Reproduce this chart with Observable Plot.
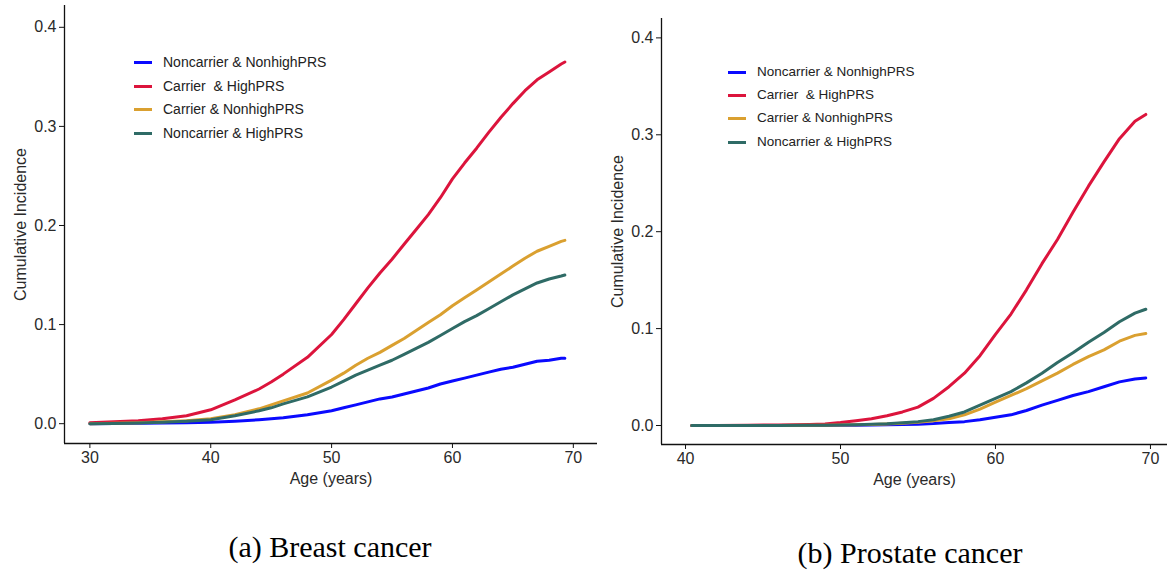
<!DOCTYPE html>
<html><head><meta charset="utf-8">
<script src="https://cdn.jsdelivr.net/npm/d3@7"></script>
<script src="https://cdn.jsdelivr.net/npm/@observablehq/plot@0.6"></script>
<style>
body{margin:0;background:#fff;}
#wrap{position:relative;width:1167px;height:571px;overflow:hidden;background:#fff;font-family:"Liberation Sans",Arial,sans-serif;}
.panel{position:absolute;top:0;}
.legend{position:absolute;top:0;color:#222;}
.legend .row{position:absolute;left:0;white-space:pre;height:16px;line-height:16px;}
.legend .sw{position:absolute;left:0;top:6.5px;width:18px;height:3px;}
.legend .lab{position:absolute;left:29px;top:0;white-space:pre;}
.caption{position:absolute;font-family:"Liberation Serif","Times New Roman",serif;font-size:30px;color:#000;transform:translateX(-50%);white-space:nowrap;line-height:1;}
</style></head><body>
<div id="wrap"></div>
<script>
// ---------- data ----------
const groups = ["Noncarrier & NonhighPRS", "Carrier  & HighPRS", "Carrier & NonhighPRS", "Noncarrier & HighPRS"];
const yTicks = [0, 0.1, 0.2, 0.3, 0.4];

const breastXTicks = [30, 40, 50, 60, 70];
const breastAge = [30, 32, 34, 36, 38, 40, 42, 44, 45, 46, 48, 50, 51, 52, 53, 54, 55, 56, 57, 58, 59, 60, 61, 62, 63, 64, 65, 66, 67, 68, 69, 69.3];
const breastNoncarrierNonhigh = [0, 0.0002, 0.0004, 0.0007, 0.001, 0.0015, 0.0025, 0.004, 0.005, 0.006, 0.009, 0.013, 0.016, 0.019, 0.022, 0.025, 0.027, 0.030, 0.033, 0.036, 0.040, 0.043, 0.046, 0.049, 0.052, 0.055, 0.057, 0.060, 0.063, 0.064, 0.066, 0.066];
const breastCarrierHigh = [0.001, 0.002, 0.003, 0.005, 0.008, 0.014, 0.024, 0.035, 0.042, 0.050, 0.067, 0.090, 0.105, 0.121, 0.137, 0.152, 0.166, 0.181, 0.196, 0.211, 0.228, 0.247, 0.263, 0.278, 0.294, 0.309, 0.323, 0.336, 0.347, 0.355, 0.363, 0.365];
const breastCarrierNonhigh = [0, 0.0005, 0.001, 0.002, 0.003, 0.005, 0.009, 0.015, 0.019, 0.023, 0.031, 0.044, 0.051, 0.059, 0.066, 0.072, 0.079, 0.086, 0.094, 0.102, 0.110, 0.119, 0.127, 0.135, 0.143, 0.151, 0.159, 0.167, 0.174, 0.179, 0.184, 0.185];
const breastNoncarrierHigh = [0, 0.0003, 0.0008, 0.0015, 0.0025, 0.004, 0.008, 0.013, 0.016, 0.020, 0.027, 0.037, 0.043, 0.049, 0.054, 0.059, 0.064, 0.070, 0.076, 0.082, 0.089, 0.096, 0.103, 0.109, 0.116, 0.123, 0.130, 0.136, 0.142, 0.146, 0.149, 0.150];

const prostateXTicks = [40, 50, 60, 70];
const prostateAge = [40.4, 42, 44, 46, 48, 49, 50, 51, 52, 53, 54, 55, 56, 57, 58, 59, 60, 61, 62, 63, 64, 65, 66, 67, 68, 69, 69.7];
const prostateNoncarrierNonhigh = [0, 0, 0, 0, 0.0001, 0.0001, 0.0002, 0.0003, 0.0005, 0.0007, 0.001, 0.0014, 0.002, 0.003, 0.004, 0.006, 0.0085, 0.011, 0.0155, 0.021, 0.026, 0.031, 0.035, 0.040, 0.045, 0.048, 0.049];
const prostateCarrierHigh = [0, 0, 0.0003, 0.0006, 0.001, 0.0015, 0.003, 0.005, 0.007, 0.010, 0.014, 0.019, 0.028, 0.040, 0.054, 0.072, 0.094, 0.115, 0.140, 0.167, 0.192, 0.220, 0.247, 0.272, 0.296, 0.314, 0.321];
const prostateCarrierNonhigh = [0, 0, 0, 0.0001, 0.0002, 0.0003, 0.0004, 0.0007, 0.001, 0.0015, 0.0023, 0.0033, 0.005, 0.007, 0.011, 0.017, 0.024, 0.031, 0.038, 0.046, 0.054, 0.063, 0.071, 0.078, 0.087, 0.093, 0.095];
const prostateNoncarrierHigh = [0, 0, 0, 0.0001, 0.0002, 0.0003, 0.0005, 0.0008, 0.0012, 0.0018, 0.0028, 0.004, 0.006, 0.0095, 0.014, 0.021, 0.028, 0.035, 0.044, 0.054, 0.065, 0.075, 0.086, 0.096, 0.107, 0.116, 0.120];

const captions = ["(a) Breast cancer", "(b) Prostate cancer"];

// ---------- styling ----------
const colors = ["#0a0aff", "#dc143c", "#daa030", "#2f6b66"];

function longData(ages, seriesList) {
  const out = [];
  seriesList.forEach((vals, gi) => {
    vals.forEach((v, i) => out.push({age: ages[i], value: v, group: groups[gi]}));
  });
  return out;
}

function panel(o) {
  const data = longData(o.ages, o.series);
  return Plot.plot({
    width: o.width, height: 500,
    marginLeft: o.ml, marginRight: o.mr, marginTop: o.mt, marginBottom: o.mb,
    style: {fontFamily: "'Liberation Sans', Arial, sans-serif", fontSize: "16px", color: "#2a2a2a", background: "transparent", overflow: "visible"},
    x: {domain: o.xDomain},
    y: {domain: o.yDomain},
    color: {domain: groups, range: colors},
    marks: [
      Plot.ruleY([o.yDomain[0]], {stroke: "#111", strokeWidth: 1.3}),
      Plot.ruleX([o.xDomain[0]], {stroke: "#111", strokeWidth: 1.3}),
      Plot.axisX({ticks: o.xTicks, tickSize: 5, tickPadding: 3, stroke: "#111", label: "Age (years)", labelAnchor: "center", labelOffset: o.xlo, labelArrow: "none"}),
      Plot.axisY({ticks: yTicks, tickSize: 5, tickPadding: 3, stroke: "#111", tickFormat: d3.format(".1f"), label: "Cumulative Incidence", labelAnchor: "center", labelOffset: o.ylo, labelArrow: "none"}),
      Plot.line(data, {x: "age", y: "value", z: "group", stroke: "group", strokeWidth: 3})
    ]
  });
}

const wrap = document.getElementById("wrap");

function place(el, left) {
  el.classList.add("panel");
  el.style.left = left + "px";
  wrap.appendChild(el);
}

place(panel({width: 600, ml: 64, mr: 3, mt: 5, mb: 57, xDomain: [27.9, 72], yDomain: [-0.02, 0.422], xTicks: breastXTicks, xlo: 40, ylo: 50,
  ages: breastAge, series: [breastNoncarrierNonhigh, breastCarrierHigh, breastCarrierNonhigh, breastNoncarrierHigh]}), 0);
place(panel({width: 567, ml: 61, mr: 0, mt: 18, mb: 56, xDomain: [38.45, 71.1], yDomain: [-0.0196, 0.42], xTicks: prostateXTicks, xlo: 40, ylo: 50,
  ages: prostateAge, series: [prostateNoncarrierNonhigh, prostateCarrierHigh, prostateCarrierNonhigh, prostateNoncarrierHigh]}), 600);

function legend(left, rowsY, fs) {
  const lg = document.createElement("div");
  lg.className = "legend";
  lg.style.left = left + "px";
  lg.style.fontSize = fs + "px";
  groups.forEach((g, i) => {
    const row = document.createElement("div");
    row.className = "row";
    row.style.top = (rowsY[i] - 8) + "px";
    const sw = document.createElement("div");
    sw.className = "sw";
    sw.style.background = colors[i];
    const lab = document.createElement("div");
    lab.className = "lab";
    lab.textContent = g;
    row.appendChild(sw); row.appendChild(lab);
    lg.appendChild(row);
  });
  wrap.appendChild(lg);
}
legend(134, [62, 86, 109, 133], 14);
legend(728, [72, 95, 118, 142], 13.5);

function caption(text, cx, top) {
  const c = document.createElement("div");
  c.className = "caption";
  c.style.left = cx + "px";
  c.style.top = top + "px";
  c.textContent = text;
  wrap.appendChild(c);
}
caption(captions[0], 330, 532);
caption(captions[1], 910, 538);
</script>
</body></html>
